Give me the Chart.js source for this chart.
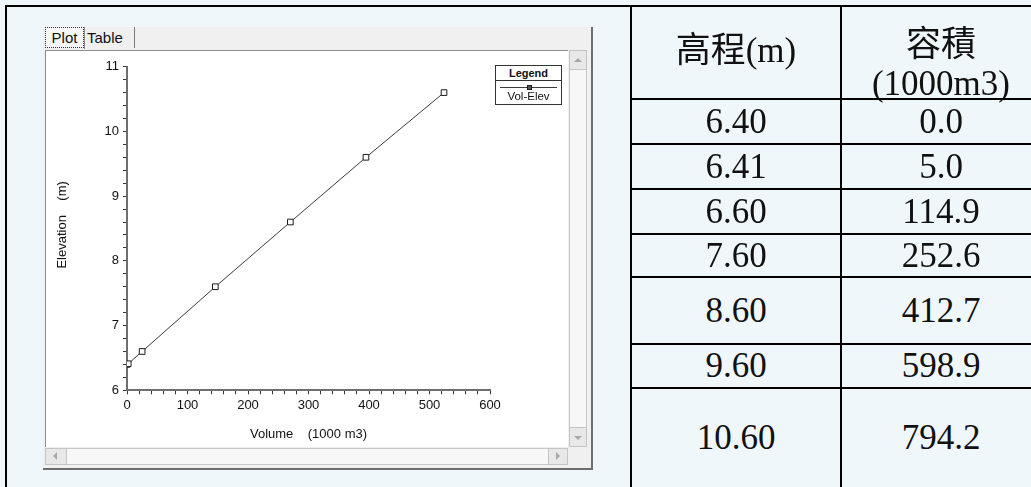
<!DOCTYPE html>
<html>
<head>
<meta charset="utf-8">
<script src="https://cdn.jsdelivr.net/npm/chart.js@4.4.0/dist/chart.umd.min.js"></script>
<style>
  html, body { margin: 0; padding: 0; width: 1031px; height: 487px; overflow: hidden; background: #f0f7fa; }
  .abs { position: absolute; }
  .hline { position: absolute; height: 2px; background: #000; }
  .vline { position: absolute; width: 2px; background: #000; }
  #win { left: 43px; top: 27px; width: 548px; height: 441px; background: #f0f0f0;
         border-right: 2px solid #6d6d6d; border-bottom: 2px solid #6d6d6d; }
  #panel { left: 45px; top: 50px; width: 522px; height: 396px; background: #fff;
           border-top: 1px solid #8c8c8c; border-left: 1px solid #8c8c8c; }
  .tab { position: absolute; top: 27px; height: 21px; font: 15px "Liberation Sans", Arial, sans-serif; color: #111;
         line-height: 21px; box-sizing: border-box; }
  #tabPlot { left: 45px; width: 39px; border: 1px dotted #333; text-align: center; line-height: 19px; background: #f6f6f6; }
  #tabSep { left: 84px; top: 27px; width: 1px; height: 22px; background: #8a8a8a; }
  #tabTable { left: 87px; width: 48px; border-right: 1px solid #7a7a7a; }
  .sb { position: absolute; background: #f7f7f7; border: 1px solid #c8c8c8; box-sizing: border-box; }
  .btn { position: absolute; background: #e8e8e8; border: 1px solid #c4c4c4; box-sizing: border-box; }
  .tri { position: absolute; width: 0; height: 0; }
  #legendBox { left: 495px; top: 65px; width: 67px; height: 40px; border: 1px solid #333; background: #fff;
               box-sizing: border-box; font: 11.5px "Liberation Sans", Arial, sans-serif; color: #111; }
  #legendHead { position: absolute; left: 0; top: 0; width: 100%; height: 14px; line-height: 14px; text-align: center;
                font-weight: bold; font-size: 11px; border-bottom: 1px solid #333; }
  #legendText { position: absolute; left: 0; top: 24px; width: 100%; text-align: center; line-height: 13px; }
  .cell { position: absolute; display: flex; align-items: center; justify-content: center;
          font-family: "Liberation Serif", "Times New Roman", "Noto Sans CJK TC", serif; font-size: 35px; color: #111; }
</style>
</head>
<body>
<!-- outer frame lines -->
<div class="hline" style="left:5px;top:5px;width:1026px;"></div>
<div class="vline" style="left:5px;top:5px;height:482px;"></div>

<!-- plot window -->
<div id="win" class="abs"></div>
<div id="tabPlot" class="tab">Plot</div>
<div id="tabSep" class="abs"></div>
<div id="tabTable" class="tab">Table</div>
<div id="panel" class="abs"></div>

<!-- vertical scrollbar -->
<div class="sb" style="left:569px;top:50px;width:18px;height:397px;"></div>
<div class="btn" style="left:569px;top:50px;width:18px;height:20px;"></div>
<div class="tri" style="left:574px;top:58px;border-left:4px solid transparent;border-right:4px solid transparent;border-bottom:4px solid #a8a8a8;"></div>
<div class="btn" style="left:569px;top:427px;width:18px;height:20px;"></div>
<div class="tri" style="left:574px;top:436px;border-left:4px solid transparent;border-right:4px solid transparent;border-top:4px solid #a8a8a8;"></div>

<!-- horizontal scrollbar -->
<div class="sb" style="left:45px;top:448px;width:523px;height:17px;"></div>
<div class="btn" style="left:45px;top:448px;width:22px;height:17px;"></div>
<div class="tri" style="left:53px;top:452px;border-top:4px solid transparent;border-bottom:4px solid transparent;border-right:4px solid #a8a8a8;"></div>
<div class="btn" style="left:548px;top:448px;width:20px;height:17px;"></div>
<div class="tri" style="left:556px;top:452px;border-top:4px solid transparent;border-bottom:4px solid transparent;border-left:4px solid #a8a8a8;"></div>

<canvas id="chart" class="abs" width="520" height="394" style="left:47px;top:52px;"></canvas>

<!-- series key box -->
<div id="legendBox" class="abs">
  <div id="legendHead">Legend</div>
  <canvas id="legendSwatch" width="65" height="8" style="position:absolute;left:0;top:17px;"></canvas>
  <div id="legendText">Vol-Elev</div>
</div>

<!-- value table -->
<div id="table"></div>

<script>
// Volume-elevation curve
const seriesName = 'Vol-Elev';
const volumes    = [0, 2, 25, 146, 270, 395, 524];            // 1000 m3
const elevations = [6.40, 6.41, 6.60, 7.60, 8.60, 9.60, 10.60]; // m

// axis labels
const xTickLabels = [0, 100, 200, 300, 400, 500, 600];
const yTickLabels = [6, 7, 8, 9, 10, 11];
const xTitle = 'Volume    (1000 m3)';
const yTitle = '  Elevation    (m)';

// side table
const tableHeadElev = ['高程(m)'];
const tableHeadVol  = ['容積', '(1000m3)'];
const tableElev = ['6.40', '6.41', '6.60', '7.60', '8.60', '9.60', '10.60'];
const tableVol  = ['0.0', '5.0', '114.9', '252.6', '412.7', '598.9', '794.2'];

const axisFont = { family: '"Liberation Sans", Arial, sans-serif', size: 13 };
const isLabel = (list, v) => list.some(t => Math.abs(t - v) < 1e-6);

new Chart(document.getElementById('chart'), {
  type: 'scatter',
  data: {
    datasets: [{
      label: seriesName,
      data: volumes.map((v, i) => ({ x: v, y: elevations[i] })),
      showLine: true,
      borderColor: '#3c3c3c',
      borderWidth: 1,
      pointStyle: 'rect',
      pointRadius: 4,
      pointBorderWidth: 1,
      pointBorderColor: '#1a1a1a',
      pointBackgroundColor: '#ffffff'
    }]
  },
  options: {
    responsive: false,
    animation: false,
    devicePixelRatio: 1,
    layout: { padding: { top: 14.7, right: 77, bottom: 0, left: 0 } },
    plugins: { legend: { display: false }, tooltip: { enabled: false } },
    scales: {
      x: {
        type: 'linear',
        min: xTickLabels[0],
        max: xTickLabels[xTickLabels.length - 1],
        afterFit(scale) { scale.height = 55.7; },
        ticks: {
          stepSize: 20, autoSkip: false, maxRotation: 0, padding: 3.6,
          font: axisFont, color: '#111',
          callback: v => isLabel(xTickLabels, v) ? String(v) : ''
        },
        grid: { drawOnChartArea: false, drawTicks: true, tickLength: 4, tickColor: '#333', tickWidth: 1 },
        border: { display: true, color: '#6e6e6e', width: 2 },
        title: { display: true, text: xTitle, font: axisFont, color: '#111', padding: { top: 0, bottom: 4.2 } }
      },
      y: {
        type: 'linear',
        min: yTickLabels[0],
        max: yTickLabels[yTickLabels.length - 1],
        afterFit(scale) { scale.width = 80; },
        ticks: {
          stepSize: 0.2, autoSkip: false, padding: 4,
          font: axisFont, color: '#111',
          callback: v => isLabel(yTickLabels, v) ? String(Math.round(v)) : ''
        },
        grid: { drawOnChartArea: false, drawTicks: true, tickLength: 4, tickColor: '#333', tickWidth: 1 },
        border: { display: true, color: '#6e6e6e', width: 2 },
        title: { display: true, text: yTitle, font: axisFont, color: '#111', padding: { top: 7.2, bottom: 0 } }
      }
    }
  }
});

// key swatch: line with a square marker
(function () {
  const c = document.getElementById('legendSwatch').getContext('2d');
  c.strokeStyle = '#3c3c3c'; c.lineWidth = 1;
  c.beginPath(); c.moveTo(4, 4.5); c.lineTo(61, 4.5); c.stroke();
  c.fillStyle = '#555'; c.fillRect(31, 2, 5, 5);
  c.strokeStyle = '#1a1a1a'; c.strokeRect(31.5, 2.5, 4, 4);
})();

// table grid and cells
(function () {
  const host = document.getElementById('table');
  const colX = [631, 841, 1041];
  const rowY = [6, 99, 144, 189, 234, 277, 344, 388, 488];
  let html = '';
  colX.slice(0, 2).forEach(x => {
    html += `<div class="vline" style="left:${x - 1}px;top:5px;height:482px;"></div>`;
  });
  rowY.slice(1, rowY.length - 1).forEach(y => {
    html += `<div class="hline" style="left:${colX[0]}px;top:${y - 1}px;width:${1031 - colX[0]}px;"></div>`;
  });
  const cell = (x0, x1, y0, y1, text, extra) =>
    `<div class="cell" style="left:${x0 + 1}px;width:${x1 - x0 - 2}px;top:${y0 + 1}px;height:${y1 - y0 - 2}px;${extra || ''}">${text}</div>`;
  html += cell(colX[0], colX[1], rowY[0], rowY[1], tableHeadElev[0], 'padding-bottom:12px;box-sizing:border-box;');
  html += `<div class="cell" style="left:${colX[1] + 1}px;width:${colX[2] - colX[1] - 2}px;top:18px;height:44px;">${tableHeadVol[0]}</div>`;
  html += `<div class="cell" style="left:${colX[1] + 1}px;width:${colX[2] - colX[1] - 2}px;top:63px;height:42px;">${tableHeadVol[1]}</div>`;
  tableElev.forEach((e, i) => {
    html += cell(colX[0], colX[1], rowY[i + 1], rowY[i + 2], e);
    html += cell(colX[1], colX[2], rowY[i + 1], rowY[i + 2], tableVol[i]);
  });
  host.innerHTML = html;
})();
</script>
</body>
</html>
